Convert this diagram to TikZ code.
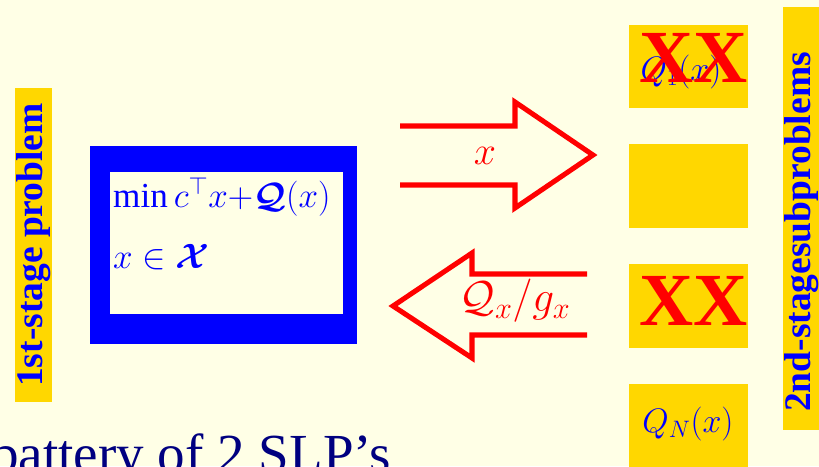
\RequirePackage{fix-cm}
\documentclass[tikz,border=0pt]{standalone}
\usepackage{amsmath,amssymb}
\usepackage{fontspec}
\setmainfont{Liberation Serif}
\usepackage{tikz}
\usetikzlibrary{positioning}
\definecolor{paper}{HTML}{FFFFE6}
\definecolor{gold}{HTML}{FFD700}
\definecolor{ink}{HTML}{0000FF}
\definecolor{alarm}{HTML}{FF0000}
\definecolor{navy}{HTML}{000080}
\tikzset{
  barlabel/.style={rotate=90,text=ink,font=\fontsize{32}{36}\selectfont\bfseries,inner sep=0pt},
  fatarrow/.style={draw=alarm,line width=4.3pt,miter limit=10,line join=miter},
  arrowlabel/.style={text=alarm,font=\fontsize{34}{38}\selectfont,inner sep=0pt},
  subbox/.style={fill=gold},
  sublabel/.style={text=ink,font=\fontsize{29}{32}\selectfont,inner sep=0pt},
  cross/.style={text=alarm,font=\fontsize{64}{70}\selectfont\bfseries,inner sep=0pt},
  mathline/.style={text=ink,font=\fontsize{30}{34}\selectfont,inner sep=0pt,anchor=base west},
}
\begin{document}
\begin{tikzpicture}[x=0.03cm,y=-0.03cm]
  \useasboundingbox (0,0) rectangle (819,466);
  \clip (0,0) rectangle (819,466);
  \fill[paper] (0,0) rectangle (819,466);
  % first stage
  \fill[gold] (15,88) rectangle (52,402);
  \node[barlabel] (firstbar) at (34,245) {1st-stage problem};
  \fill[ink] (90,146) rectangle (357,344);
  \fill[paper] (110,172) rectangle (343,314);
  \node[mathline] (objective) at (113,207) {$\min c^{\top}x{+}\boldsymbol{\mathcal{Q}}(x)$};
  \node[mathline] (feasible) at (113,268) {$x\in\boldsymbol{\mathcal{X}}$};
  % the two arrows between the stages
  \draw[fatarrow] (400,126) -- (515,126) -- (515,102) -- (593,155) -- (515,208) -- (515,185) -- (400,185);
  \node[arrowlabel] (sendx) at (485,156) {$x$};
  \draw[fatarrow] (587,274) -- (472,274) -- (472,253) -- (393,306) -- (472,358) -- (472,335) -- (587,335);
  \node[arrowlabel,font=\fontsize{37}{40}\selectfont] (sendcut) at (515,301) {$\mathcal{Q}_x/g_x$};
  % second stage
  \fill[subbox] (629,25) rectangle (748,108);
  \fill[subbox] (629,144) rectangle (748,228);
  \fill[subbox] (629,264) rectangle (748,348);
  \fill[subbox] (629,384) rectangle (748,470);
  \node[sublabel] (subone) at (681,72) {$Q_1(x)$};
  \node[cross] (crossone) at (694,58) {XX};
  \node[cross] (crossthree) at (694,301) {XX};
  \node[sublabel] (sublast) at (688,424) {$Q_N(x)$};
  \fill[gold] (783,7) rectangle (825,430);
  \node[barlabel] (secondbar) at (802,232) {2nd-stagesubproblems};
  \node[text=navy,font=\fontsize{47}{52}\selectfont,anchor=base west,inner sep=0pt] (title) at (-9,472) {battery of 2 SLP’s};
\end{tikzpicture}
\end{document}
